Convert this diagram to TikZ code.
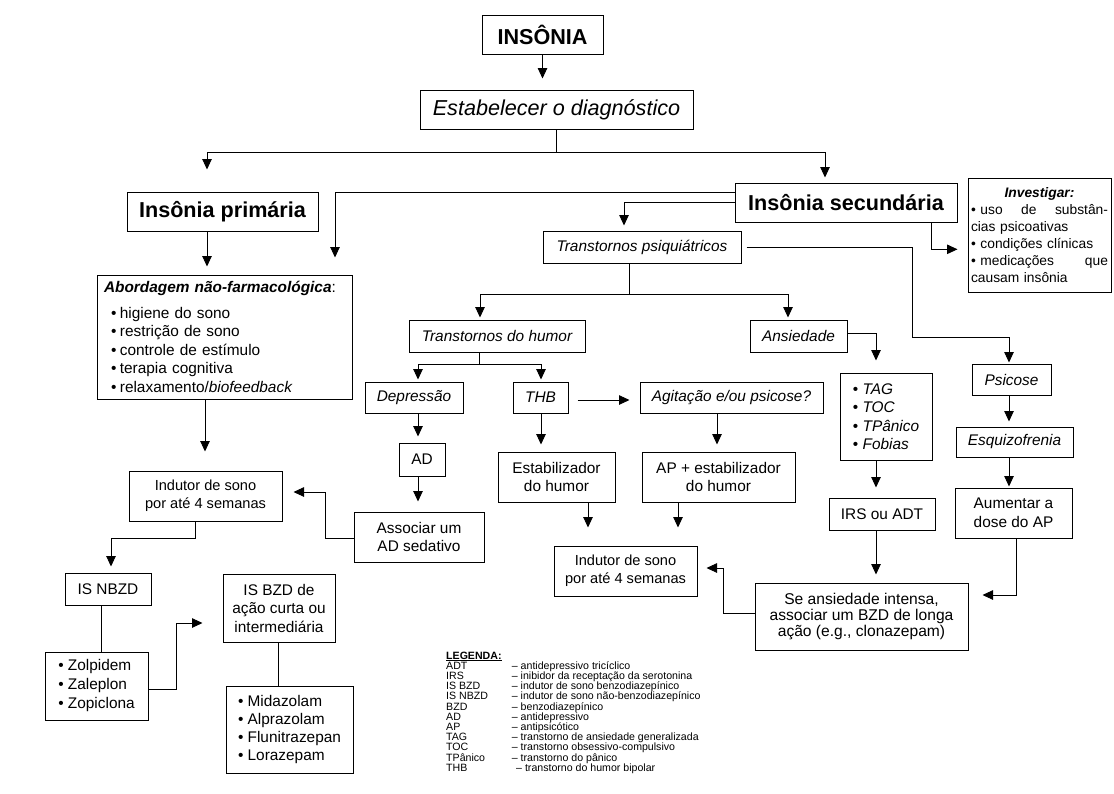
\documentclass[tikz,border=0pt]{standalone}
\usepackage{fontspec}
\setmainfont{Liberation Sans}
\usetikzlibrary{arrows.meta}
\newcommand{\fsz}[2]{\fontsize{#1}{#2}\selectfont}
\newcommand{\bul}{\textbullet\hspace{3.5pt}}
\begin{document}
\begin{tikzpicture}[x=1pt,y=-1pt,
  box/.style={draw, line width=1pt, inner sep=0pt, align=center, font=\fsz{15.4}{18.5}},
  ibox/.style={box, font=\fsz{15.4}{18.5}\itshape},
  big/.style={box, font=\fsz{21.6}{26}\bfseries},
  arr/.style={line width=0.9pt, -{Triangle[length=10.5pt,width=9.5pt]}},
  ln/.style={line width=0.9pt}]
\useasboundingbox (0,0) rectangle (1114,793);
\fill[white] (0,0) rectangle (1114,793);

% nodes
\node[big, minimum width=121, minimum height=39] (ins) at (542.5,34.5) {INSÔNIA};
\node[box, font=\fsz{21.6}{26}\itshape, minimum width=273, minimum height=39] (diag) at (556.5,109.5) {Estabelecer o diagnóstico};
\node[big, minimum width=191, minimum height=39] (prim) at (222.5,211.5) {Insônia primária};
\node[big, minimum width=222, minimum height=39] (sec) at (846,202.5) {Insônia secundária};
\node[box, font=\fsz{13.8}{17}, align=left, inner xsep=3pt, text width=137pt, minimum height=114] (inv) at (1039.5,235)
 {\leavevmode\hbox to 137pt{\hfill\textbf{\textit{Investigar:}}\hfill}\\
  \leavevmode\hbox to 137pt{\textbullet\ uso\hfill de\hfill substân-}\\
  cias psicoativas\\
  \textbullet\ condições clínicas\\
  \leavevmode\hbox to 137pt{\textbullet\ medicações\hfill que}\\
  causam insônia};
\node[ibox, minimum width=198, minimum height=32] (tpsi) at (642,247) {Transtornos psiquiátricos};
\node[box, align=left, inner xsep=7pt, text width=241pt, minimum height=124] (abord) at (224.5,337)
 {\textbf{\textit{Abordagem não-farmacológica}}:\\[7pt]
  \hspace*{7pt}\bul higiene do sono\\
  \hspace*{7pt}\bul restrição de sono\\
  \hspace*{7pt}\bul controle de estímulo\\
  \hspace*{7pt}\bul terapia cognitiva\\
  \hspace*{7pt}\bul relaxamento/\textit{biofeedback}\\[3pt]};
\node[ibox, minimum width=176, minimum height=32] (thum) at (497,336) {Transtornos do humor};
\node[ibox, minimum width=97, minimum height=32] (ans) at (798.5,336) {Ansiedade};
\node[ibox, minimum width=98, minimum height=31] (dep) at (414,397.5) {Depressão};
\node[ibox, minimum width=55, minimum height=31] (thb) at (540.5,397.5) {THB};
\node[ibox, minimum width=183, minimum height=31] (agit) at (731.5,397.5) {Agitação e/ou psicose?};
\node[box, align=left, minimum width=92, minimum height=87] (tag) at (886,416.5)
 {\textbullet\ \textit{TAG}\\ \textbullet\ \textit{TOC}\\ \textbullet\ \textit{TPânico}\\ \textbullet\ \textit{Fobias}};
\node[ibox, minimum width=79, minimum height=31] (psic) at (1011.5,379.5) {Psicose};
\node[ibox, minimum width=117, minimum height=30] (esq) at (1014.5,442) {Esquizofrenia};
\node[box, minimum width=46, minimum height=33] (ad) at (422,459.5) {AD};
\node[box, minimum width=117, minimum height=50] (estab) at (556.5,477) {Estabilizador\\do humor};
\node[box, minimum width=153, minimum height=50] (apest) at (718.5,477) {AP + estabilizador\\do humor};
\node[box, minimum width=106, minimum height=32] (irs) at (882,514) {IRS ou ADT};
\node[box, minimum width=117, minimum height=50] (aum) at (1013.5,513) {Aumentar a\\dose do AP};
\node[box, font=\fsz{14.6}{18.3}, minimum width=153, minimum height=50] (indL) at (205.5,496) {Indutor de sono\\por até 4 semanas};
\node[box, minimum width=130, minimum height=50] (assoc) at (419,537) {Associar um\\AD sedativo};
\node[box, font=\fsz{14.6}{18.3}, minimum width=143, minimum height=50] (indM) at (625.5,571) {Indutor de sono\\por até 4 semanas};
\node[box, font=\fsz{15.6}{16.2}, minimum width=213, minimum height=67] (sean) at (861.5,616.5) {Se ansiedade intensa,\\associar um BZD de longa\\ação (e.g., clonazepam)};
\node[box, minimum width=86, minimum height=32] (nbzd) at (108,589) {IS NBZD};
\node[box, minimum width=112, minimum height=68] (bzd) at (279,608) {IS BZD de\\ação curta ou\\intermediária};
\node[box, align=left, font=\fsz{15.4}{19}, minimum width=103, minimum height=68] (zol) at (96.5,686) {\textbullet\ Zolpidem\\ \textbullet\ Zaleplon\\ \textbullet\ Zopiclona};
\node[box, align=left, font=\fsz{15.4}{18.3}, minimum width=127, minimum height=87] (mid) at (289.5,729.5) {\textbullet\ Midazolam\\ \textbullet\ Alprazolam\\ \textbullet\ Flunitrazepan\\ \textbullet\ Lorazepam};

% legend
\node[anchor=north west, inner sep=0pt, align=left, font=\fsz{10.6}{10.2}] (leg) at (446,651.5)
 {\textbf{\underline{LEGENDA:}}\\
  \makebox[65.7pt][l]{ADT}– antidepressivo tricíclico\\
  \makebox[65.7pt][l]{IRS}– inibidor da receptação da serotonina\\
  \makebox[65.7pt][l]{IS BZD}– indutor de sono benzodiazepínico\\
  \makebox[65.7pt][l]{IS NBZD}– indutor de sono não-benzodiazepínico\\
  \makebox[65.7pt][l]{BZD}– benzodiazepínico\\
  \makebox[65.7pt][l]{AD}– antidepressivo\\
  \makebox[65.7pt][l]{AP}– antipsicótico\\
  \makebox[65.7pt][l]{TAG}– transtorno de ansiedade generalizada\\
  \makebox[65.7pt][l]{TOC}– transtorno obsessivo-compulsivo\\
  \makebox[65.7pt][l]{TPânico}– transtorno do pânico\\
  \makebox[70pt][l]{THB}– transtorno do humor bipolar};

% connectors
\draw[arr, shorten >=11pt] (ins.south) -- (ins.south |- diag.north);
\coordinate (split) at (diag.south |- 0,152);
\draw[ln] (diag.south) -- (split);
\draw[arr, shorten >=22pt] (split) -| (207,0 |- prim.north);
\draw[arr, shorten >=5pt] (split) -| (825,0 |- sec.north);
\draw[arr, shorten >=17pt] (sec.west |- 0,192.7) -| (335,0 |- abord.north);
\draw[arr, shorten >=5pt] (sec.west |- 0,202.7) -| (624,0 |- tpsi.north);
\draw[arr, shorten >=10pt] (931,0 |- sec.south) |- (inv.west |- 0,249.3);
\draw[arr, shorten >=8pt] (207,0 |- prim.south) -- (207,0 |- abord.north);
\coordinate (gbend) at (912,337);
\draw[arr, shorten >=1pt] ([xshift=5pt]tpsi.east) -| (gbend) -| (1009,0 |- psic.north);
\coordinate (tsplit) at (629,294);
\draw[ln] (629,0 |- tpsi.south) -- (tsplit);
\draw[arr, shorten >=2pt] (tsplit) -| (480,0 |- thum.north);
\draw[arr, shorten >=2pt] (tsplit) -| (788,0 |- ans.north);
\coordinate (hsplit) at (479,364);
\draw[ln] (479,0 |- thum.south) -- (hsplit);
\draw[arr, shorten >=2pt] (hsplit) -| (418,0 |- dep.north);
\draw[arr, shorten >=2pt] (hsplit) -| (541,0 |- thb.north);
\draw[arr, shorten >=12pt] (ans.east |- 0,333) -| (876,0 |- tag.north);
\draw[arr, shorten <=9pt, shorten >=10pt] (thb.east |- 0,400) -- (agit.west |- 0,400);
\draw[arr, shorten >=6pt] (418,0 |- dep.south) -- (418,0 |- ad.north);
\draw[arr, shorten >=10pt] (418,0 |- ad.south) -- (418,0 |- assoc.north);
\draw[arr, shorten >=7pt] (541,0 |- thb.south) -- (541,0 |- estab.north);
\draw[arr, shorten >=7pt] (717,0 |- agit.south) -- (717,0 |- apest.north);
\draw[arr, shorten >=18pt] (588,0 |- estab.south) -- (588,0 |- indM.north);
\draw[arr, shorten >=18pt] (678,0 |- apest.south) -- (678,0 |- indM.north);
\draw[arr, shorten >=11pt] (assoc.west |- 0,538) -| (325,492) -- (indL.east |- 0,492);
\draw[arr, shorten >=19pt] (205,0 |- abord.south) -- (205,0 |- indL.north);
\draw[arr, shorten >=6pt] (195,0 |- indL.south) |- (111,538) -- (111,0 |- nbzd.north);
\draw[ln] (101,0 |- nbzd.south) -- (101,0 |- zol.north);
\draw[arr, shorten >=20pt] (zol.east |- 0,689) -| (176,623) -- (bzd.west |- 0,623);
\draw[ln] (278,0 |- bzd.south) -- (278,0 |- mid.north);
\draw[arr, shorten >=10pt] (876,0 |- tag.south) -- (876,0 |- irs.north);
\draw[arr, shorten >=8pt] (876,0 |- irs.south) -- (876,0 |- sean.north);
\draw[arr, shorten >=5pt] (1009,0 |- psic.south) -- (1009,0 |- esq.north);
\draw[arr, shorten >=1pt] (1009,0 |- esq.south) -- (1009,0 |- aum.north);
\draw[arr, shorten >=14pt] (1016,0 |- aum.south) |- (sean.east |- 0,595);
\draw[arr, shorten >=9pt] (sean.west |- 0,613) -| (723,568) -- (indM.east |- 0,568);
\end{tikzpicture}
\end{document}
